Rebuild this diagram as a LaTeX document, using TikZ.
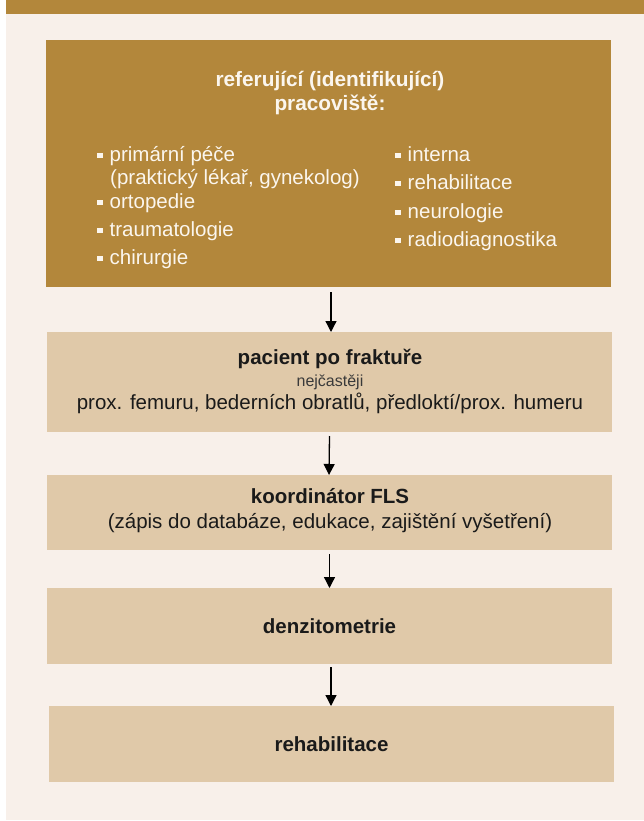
\documentclass[tikz,border=0pt]{standalone}
\usepackage{fontspec}
\setmainfont{Liberation Sans}
\usetikzlibrary{arrows.meta}
\definecolor{brownbox}{HTML}{B3873B}
\definecolor{creambg}{HTML}{F8F0EA}
\definecolor{lightbox}{HTML}{E0C9A9}
\definecolor{ink}{HTML}{1A1A1A}
\definecolor{softink}{HTML}{3A3A3A}
\definecolor{paletext}{HTML}{FBF6EE}
\newcommand\sqbul{\rule[0.15em]{0.27em}{0.27em}\hspace{0.34em}}
\begin{document}
\begin{tikzpicture}[x=1pt,y=-1pt,
  darkbox/.style={fill=brownbox,draw=none,minimum width=565pt,inner sep=0pt,outer sep=0pt},
  lightstep/.style={fill=lightbox,draw=none,minimum width=565pt,inner sep=0pt,outer sep=0pt,
    text=ink,font=\bfseries\fontsize{20.5}{24}\selectfont},
  txt/.style={inner sep=0pt,text height=0.75em,text depth=0.25em},
  item/.style={txt,anchor=west,text=paletext,font=\fontsize{20.5}{24}\selectfont},
  headw/.style={txt,text=paletext,font=\bfseries\fontsize{20.8}{24}\selectfont},
  headk/.style={txt,text=ink,font=\bfseries\fontsize{20.5}{24}\selectfont},
  bodyk/.style={txt,text=ink,font=\fontsize{20.5}{24}\selectfont},
  smallk/.style={txt,text=softink,font=\fontsize{16}{18}\selectfont},
  flow/.style={draw=black,line width=1.3pt,-{Triangle[width=11pt,length=11pt]}},
]
\useasboundingbox (0,0) rectangle (644,821);
\fill[creambg] (6,0) rectangle (644,820);
\fill[brownbox] (6,0) rectangle (644,14);

% box 1
\node[darkbox,minimum height=247pt] (ref) at (328.5,163.5) {};
\node[headw] (reft1) at (330,84) {referující (identifikující)};
\node[headw] (reft2) at (330,108) {pracoviště:};
\node[item] (l1) at (97,159) {\sqbul primární péče};
\node[item] (l1b) at (110,182) {(praktický lékař, gynekolog)};
\node[item] (l2) at (97,206) {\sqbul ortopedie};
\node[item] (l3) at (97,234) {\sqbul traumatologie};
\node[item] (l4) at (97,262) {\sqbul chirurgie};
\node[item] (r1) at (395,159) {\sqbul interna};
\node[item] (r2) at (395,187) {\sqbul rehabilitace};
\node[item] (r3) at (395,216) {\sqbul neurologie};
\node[item] (r4) at (395,244) {\sqbul radiodiagnostika};

% box 2
\node[lightstep,minimum height=100pt] (pat) at (329.5,382) {};
\node[headk] (patt1) at (330,362) {pacient po fraktuře};
\node[smallk] (patt2) at (330,384) {nejčastěji};
\node[bodyk] (patt3) at (330,407) {prox. femuru, bederních obratlů, předloktí/prox. humeru};

% box 3
\node[lightstep,minimum height=75pt] (fls) at (329,512.5) {};
\node[headk] (flst1) at (330,501) {koordinátor FLS};
\node[bodyk] (flst2) at (330,526) {(zápis do databáze, edukace, zajištění vyšetření)};

% box 4, 5
\node[lightstep,minimum height=76pt] (dxa) at (329.5,626) {\raisebox{-2pt}{denzitometrie}};
\node[lightstep,minimum height=76pt] (reh) at (331.5,744) {\raisebox{-2pt}{rehabilitace}};

% arrows
\draw[flow] ([xshift=2.5pt,yshift=-5pt]ref.south) -- ([xshift=1.5pt]pat.north);
\draw[flow] ([xshift=0pt,yshift=-4pt]pat.south) -- ([xshift=0pt]fls.north);
\draw[flow] ([xshift=0.5pt,yshift=-4pt]fls.south) -- ([xshift=0pt]dxa.north);
\draw[flow] ([xshift=1.5pt,yshift=-3pt]dxa.south) -- ([xshift=-0.5pt]reh.north);
\end{tikzpicture}
\end{document}
